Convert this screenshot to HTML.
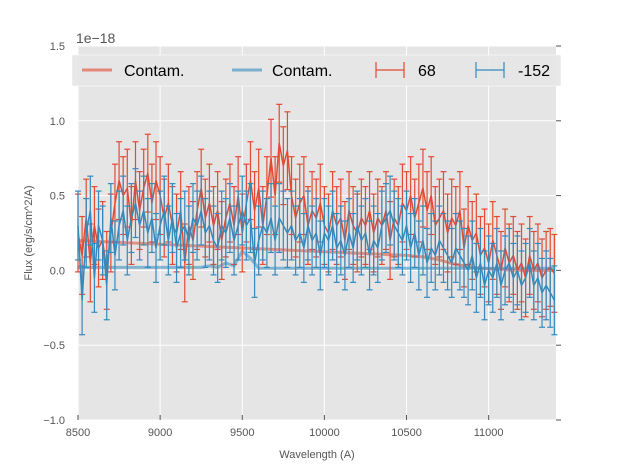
<!DOCTYPE html>
<html><head><meta charset="utf-8"><style>
body{margin:0;background:#fff;font-family:"Liberation Sans","DejaVu Sans",sans-serif}
svg text{font-family:"Liberation Sans","DejaVu Sans",sans-serif}
</style></head><body>
<svg id="chart" width="617" height="467" xmlns="http://www.w3.org/2000/svg">
<rect x="78" y="46" width="478" height="374" fill="#E5E5E5"/>
<g id="grid"></g>
<g id="series"></g>
<g id="axes"></g>
<text x="76" y="43" font-size="14" fill="#555">1e−18</text>
<text x="317" y="458" font-size="11" fill="#555" text-anchor="middle">Wavelength (A)</text>
<text transform="translate(32,233) rotate(-90)" font-size="11" fill="#555" text-anchor="middle">Flux (erg/s/cm^2/A)</text>
<g>
<rect x="72" y="55" width="489" height="31" fill="#E5E5E5" fill-opacity="0.9" stroke="#fff" stroke-width="0.5"/>
<g><line x1="82" y1="70" x2="112" y2="70" stroke="#E24A33" stroke-opacity="0.6" stroke-width="3"/><text x="124" y="76" font-size="16" fill="#000">Contam.</text></g>
<g><line x1="232" y1="70" x2="262" y2="70" stroke="#348ABD" stroke-opacity="0.6" stroke-width="3"/><text x="272" y="76" font-size="16" fill="#000">Contam.</text></g>
<g stroke="#E24A33" stroke-width="1.2"><line x1="376" y1="70" x2="404" y2="70"/><line x1="376" y1="62" x2="376" y2="78"/><line x1="404" y1="62" x2="404" y2="78"/><text x="418" y="76" font-size="16" fill="#000" stroke="none">68</text></g>
<g stroke="#348ABD" stroke-width="1.2"><line x1="476" y1="70" x2="504" y2="70"/><line x1="476" y1="62" x2="476" y2="78"/><line x1="504" y1="62" x2="504" y2="78"/><text x="518" y="76" font-size="16" fill="#000" stroke="none">-152</text></g>
</g>
</svg>
<script>
const xTicks=[8500,9000,9500,10000,10500,11000];
const yTicks=[-1.0,-0.5,0.0,0.5,1.0,1.5];
const yTickLabels=["−1.0","−0.5","0.0","0.5","1.0","1.5"];
const red=[0.25,0.1,0.35,0.05,0.3,0.15,0.2,0.0,0.25,0.45,0.6,0.5,0.55,0.3,0.6,0.4,0.55,0.65,0.45,0.6,0.5,0.35,0.45,0.3,0.25,0.4,0.05,0.3,0.2,0.4,0.55,0.35,0.45,0.3,0.4,0.2,0.35,0.45,0.3,0.5,0.25,0.45,0.6,0.4,0.55,0.3,0.5,0.75,0.5,0.85,0.7,0.8,0.5,0.35,0.45,0.5,0.3,0.4,0.35,0.45,0.3,0.25,0.4,0.3,0.35,0.2,0.4,0.3,0.25,0.35,0.3,0.4,0.25,0.35,0.3,0.4,0.2,0.35,0.3,0.45,0.4,0.5,0.35,0.45,0.55,0.4,0.5,0.3,0.35,0.4,0.25,0.35,0.3,0.4,0.15,0.3,0.2,0.25,0.1,0.15,0.05,0.2,0.1,0.0,0.15,0.05,0.1,0.0,0.05,-0.05,0.1,0.0,0.05,-0.05,0.0,0.02,-0.02];
const blue=[0.3,-0.2,0.25,0.4,-0.05,0.3,0.2,-0.1,0.35,0.1,0.3,0.4,0.2,0.35,0.45,0.3,0.4,0.25,0.35,0.15,0.3,0.4,0.2,0.35,0.15,0.25,0.3,0.2,0.35,0.3,0.4,0.25,0.3,0.2,0.15,0.3,0.25,0.35,0.2,0.3,0.4,0.3,0.35,0.05,0.2,0.3,0.25,0.35,0.2,0.35,0.3,0.25,0.3,0.2,0.25,0.15,0.3,0.2,0.25,0.1,0.25,0.2,0.3,0.15,0.2,0.1,0.25,0.15,0.3,0.2,0.25,0.1,0.2,0.15,0.3,0.35,0.4,0.3,0.25,0.2,0.3,0.15,0.25,0.1,0.2,0.05,0.15,0.1,0.2,0.15,0.1,0.05,0.15,0.1,0.05,0.0,0.1,-0.05,0.05,-0.1,0.0,-0.05,0.05,-0.1,0.0,0.05,-0.05,0.0,-0.1,-0.05,0.05,-0.1,-0.05,-0.15,-0.1,-0.15,-0.2];
const redErr=0.26;
const blueErr=0.23;
const redContam=[0.2,0.195,0.19,0.185,0.18,0.175,0.17,0.165,0.16,0.155,0.15,0.145,0.14,0.135,0.13,0.125,0.12,0.115,0.11,0.105,0.1,0.09,0.07,0.04,0.02,0.01,0.005,0.0,0.0,0.0];
const blueContam=[0.02,0.02,0.02,0.02,0.02,0.02,0.02,0.02,0.02,0.02,0.02,0.02,0.02,0.02,0.02,0.02,0.03,0.02,0.05,0.03,0.13,0.08,0.015,0.015,0.015,0.015,0.015,0.015,0.015,0.015,0.015,0.015,0.015,0.015,0.015,0.015,0.015,0.015,0.015,0.015,0.015,0.015,0.015,0.015,0.015,0.015,0.015,0.015,0.015,0.015,0.015,0.015,0.015,0.015,0.015,0.015,0.015,0.015,0.015];
const X0=78,X1=556,Y0=46,Y1=420,XMIN=8500,XMAX=11410,YMIN=-1.0,YMAX=1.5;
const sx=v=>X0+(v-XMIN)/(XMAX-XMIN)*(X1-X0);
const sy=v=>Y1-(v-YMIN)/(YMAX-YMIN)*(Y1-Y0);
const NS='http://www.w3.org/2000/svg';
function mk(tag,attrs,parent){const e=document.createElementNS(NS,tag);for(const k in attrs)e.setAttribute(k,attrs[k]);parent.appendChild(e);return e;}
const grid=document.getElementById('grid'),axes=document.getElementById('axes'),ser=document.getElementById('series');
xTicks.forEach(t=>{
 const g=mk('line',{x1:sx(t),x2:sx(t),y1:Y0,y2:Y1,stroke:'#fff','stroke-width':1},grid);
 
 
 const tk=mk('line',{x1:sx(t),x2:sx(t),y1:Y1,y2:Y1-5,stroke:'#555'},axes);
 
 
 const tx=mk('text',{x:sx(t),y:Y1+16,'font-size':11,fill:'#555','text-anchor':'middle'},axes);
 tx.textContent=t;
 
 
});
yTicks.forEach((t,i)=>{
 const g=mk('line',{x1:X0,x2:X1,y1:sy(t),y2:sy(t),stroke:'#fff','stroke-width':1},grid);
 
 
 const tk=mk('line',{x1:X1,x2:X1+5,y1:sy(t),y2:sy(t),stroke:'#555'},axes);
 
 
 const tx=mk('text',{x:X0-13,y:sy(t)+4,'font-size':11,fill:'#555','text-anchor':'end'},axes);
 tx.textContent=yTickLabels[i];
 
 
});
function line(vals,step,color,w,op,name){
 const pts=vals.map((v,i)=>sx(XMIN+i*step).toFixed(1)+','+sy(v).toFixed(1)).join(' ');
 const p=mk('polyline',{points:pts,fill:'none',stroke:color,'stroke-width':w,'stroke-opacity':op,'stroke-linejoin':'round'},ser);
 
 
}
function errs(vals,err,color,name){
 const g=mk('g',{stroke:color,'stroke-width':1.2},ser);
 
 
 vals.forEach((v,i)=>{const x=sx(XMIN+i*25);
  mk('line',{x1:x,x2:x,y1:sy(v-err),y2:sy(v+err)},g);
  mk('line',{x1:x-3,x2:x+3,y1:sy(v-err),y2:sy(v-err)},g);
  mk('line',{x1:x-3,x2:x+3,y1:sy(v+err),y2:sy(v+err)},g);});
 line(vals,25,color,1.5,1,name+'-line');
}
line(redContam,100,'#E24A33',3,0.55,'red-contam-line');
line(blueContam,50,'#348ABD',3,0.55,'blue-contam-line');
errs(red,redErr,'#E24A33','series-68');
errs(blue,blueErr,'#348ABD','series-minus152');
</script>
</body></html>
